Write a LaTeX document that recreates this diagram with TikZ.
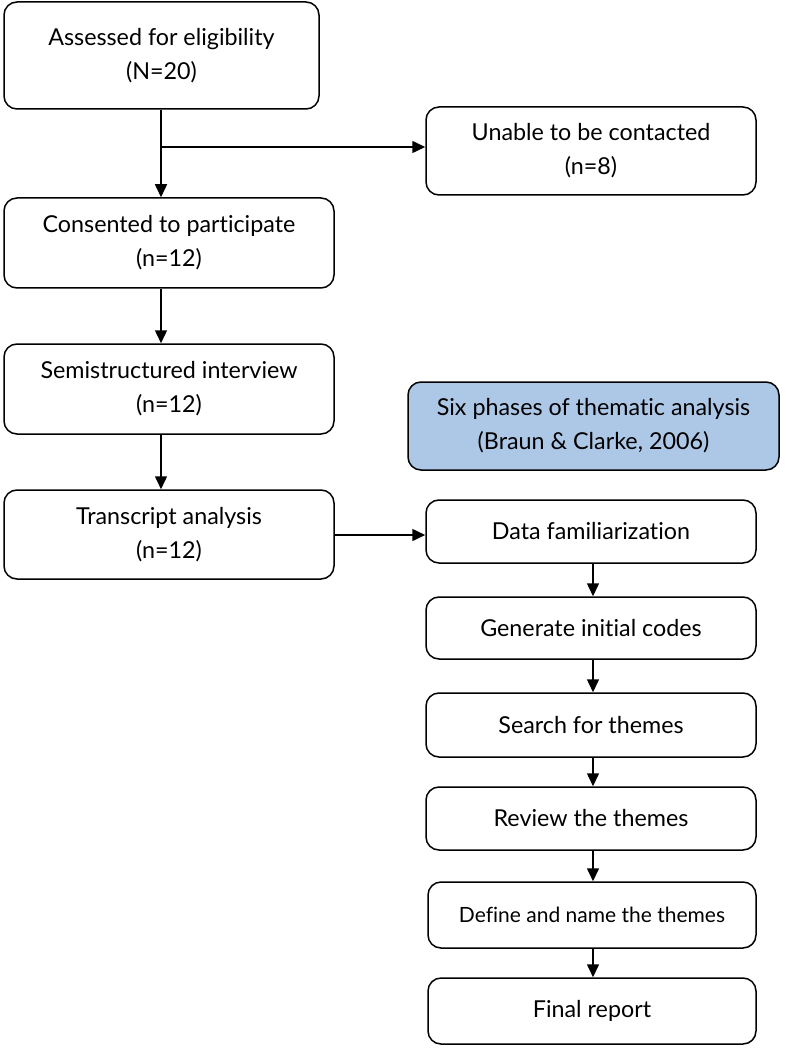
\documentclass[tikz,border=0pt]{standalone}
\usepackage{fontspec}
\setmainfont{Lato}[Ligatures=NoCommon]
\usetikzlibrary{arrows.meta}
\begin{document}
\begin{tikzpicture}[x=1pt,y=-1pt,
  box/.style={draw=black,line width=1.5pt,rounded corners=13pt,fill=white,align=center,
    font=\fontsize{23.3}{34}\selectfont,inner sep=0pt},
  arr/.style={line width=1.5pt,-{Triangle[length=13pt,width=12pt]}}]
\definecolor{headblue}{HTML}{ADC8E7}
\useasboundingbox (0,0) rectangle (792,1048);
\node[box,minimum width=315pt,minimum height=107pt] (a) at (161.5,55.5) {Assessed for eligibility\\(N=20)};
\node[box,minimum width=330pt,minimum height=88pt] (u) at (591,151) {Unable to be contacted\\(n=8)};
\node[box,minimum width=330pt,minimum height=90pt] (c) at (169,243) {Consented to participate\\(n=12)};
\node[box,minimum width=330pt,minimum height=90pt] (s) at (169,389) {Semistructured interview\\(n=12)};
\node[box,minimum width=330pt,minimum height=89pt] (t) at (169,534.5) {Transcript analysis\\(n=12)};
\node[box,fill=headblue,minimum width=371pt,minimum height=88pt] (h) at (593.5,426) {Six phases of thematic analysis\\(Braun \& Clarke, 2006)};
\node[box,minimum width=330pt,minimum height=63pt] (d1) at (591,531.5) {Data familiarization};
\node[box,minimum width=330pt,minimum height=62pt] (d2) at (591,628) {Generate initial codes};
\node[box,minimum width=330pt,minimum height=64pt] (d3) at (591,725) {Search for themes};
\node[box,minimum width=330pt,minimum height=63pt] (d4) at (591,818.5) {Review the themes};
\node[box,font=\fontsize{21}{24}\selectfont,minimum width=328pt,minimum height=66pt] (d5) at (592,915) {Define and name the themes};
\node[box,minimum width=328pt,minimum height=66pt] (d6) at (592,1011) {Final report};
\coordinate (br) at (161,147);
\draw[arr] (a.south -| br) -- (c.north -| br);
\draw[arr] (br) -- (br -| u.west);
\draw[arr] (c.south -| br) -- (s.north -| br);
\draw[arr] (s.south -| br) -- (t.north -| br);
\draw[arr] (t.east |- 0,535) -- (d1.west |- 0,535);
\coordinate (rx) at (593,0);
\draw[arr] (d1.south -| rx) -- (d2.north -| rx);
\draw[arr] (d2.south -| rx) -- (d3.north -| rx);
\draw[arr] (d3.south -| rx) -- (d4.north -| rx);
\draw[arr] (d4.south -| rx) -- (d5.north -| rx);
\draw[arr] (d5.south -| rx) -- (d6.north -| rx);
\end{tikzpicture}
\end{document}
